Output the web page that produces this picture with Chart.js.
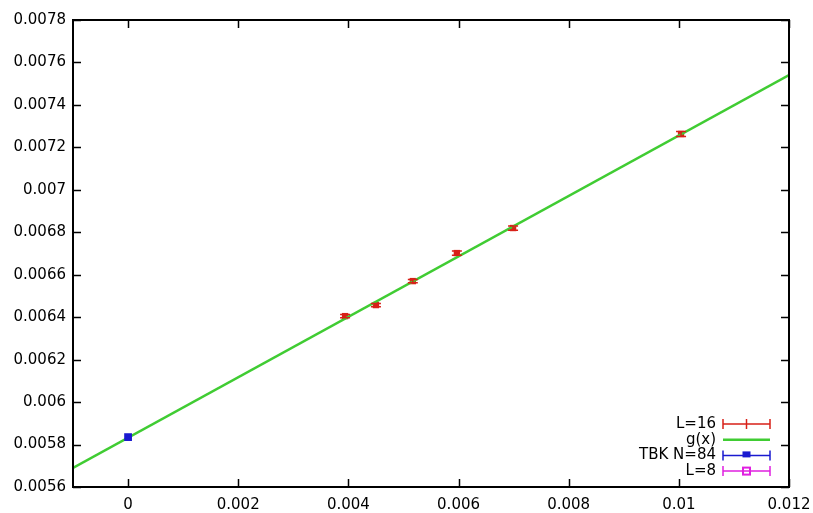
<!DOCTYPE html>
<html>
<head>
<meta charset="utf-8">
<script src="https://cdn.jsdelivr.net/npm/chart.js@4"></script>
<style>
  html, body { margin: 0; padding: 0; background: #fff; }
  #wrap { width: 813px; height: 513px; }
</style>
</head>
<body>
<div id="wrap"><canvas id="fitChart" width="813" height="513"></canvas></div>
<script>
// Tick values for both axes
const xTicks = [0, 0.002, 0.004, 0.006, 0.008, 0.01, 0.012];
const yTicks = [0.0056, 0.0058, 0.006, 0.0062, 0.0064, 0.0066, 0.0068, 0.007, 0.0072, 0.0074, 0.0076, 0.0078];

// L=16 points with error bars
const l16X = [0.00394, 0.0045, 0.00517, 0.00597, 0.00699, 0.01004];
const l16Y = [0.006405, 0.006457, 0.00657, 0.006702, 0.00682, 0.007263];
const l16Err = [0.000008, 0.000008, 0.000008, 0.00001, 0.00001, 0.000012];

// TBK N=84 extrapolated point
const tbkX = [0];
const tbkY = [0.005835];

// L=8 (listed in key, no visible points)
const l8X = [];
const l8Y = [];

// fitted line g(x), read at both ends of the x range
const gX = [-0.001, 0.012];
const gY = [0.00569, 0.00754];

const legendLabels = ["L=16", "g(x)", "TBK N=84", "L=8"];

const FONT = "15px 'DejaVu Sans'";

function toPoints(xs, ys) {
  return xs.map((x, i) => ({ x: x, y: ys[i] }));
}

function fmt(v) {
  return String(Number(v.toFixed(6)));
}

// frame with inward ticks, error bars and gnuplot style key
const gnuFrame = {
  id: "gnuFrame",
  afterDatasetsDraw(chart) {
    const ctx = chart.ctx;
    const xs = chart.scales.x;
    const ys = chart.scales.y;
    // error bars for L=16
    ctx.save();
    ctx.strokeStyle = "#d82018";
    ctx.lineWidth = 1.5;
    l16X.forEach((x, i) => {
      const px = xs.getPixelForValue(x);
      const top = ys.getPixelForValue(l16Y[i] + l16Err[i]);
      const bot = ys.getPixelForValue(l16Y[i] - l16Err[i]);
      ctx.beginPath();
      ctx.moveTo(px, top);
      ctx.lineTo(px, bot);
      ctx.moveTo(px - 5, top);
      ctx.lineTo(px + 5, top);
      ctx.moveTo(px - 5, bot);
      ctx.lineTo(px + 5, bot);
      ctx.stroke();
    });
    ctx.restore();
  },
  afterDraw(chart) {
    const ctx = chart.ctx;
    const a = chart.chartArea;
    const xs = chart.scales.x;
    const ys = chart.scales.y;
    ctx.save();
    ctx.strokeStyle = "#000";
    ctx.lineWidth = 2;
    ctx.strokeRect(a.left, a.top, a.right - a.left, a.bottom - a.top);
    ctx.lineWidth = 1.5;
    ctx.beginPath();
    xTicks.forEach((v) => {
      const px = Math.round(xs.getPixelForValue(v)) + 0.5;
      ctx.moveTo(px, a.bottom);
      ctx.lineTo(px, a.bottom - 8);
      ctx.moveTo(px, a.top);
      ctx.lineTo(px, a.top + 8);
    });
    yTicks.forEach((v) => {
      const py = Math.round(ys.getPixelForValue(v)) + 0.5;
      ctx.moveTo(a.left, py);
      ctx.lineTo(a.left + 8, py);
      ctx.moveTo(a.right, py);
      ctx.lineTo(a.right - 8, py);
    });
    ctx.stroke();

    // key
    const textRight = 716;
    const x0 = 723;
    const x1 = 770;
    const xm = (x0 + x1) / 2;
    const colors = ["#d82018", "#40cc33", "#1a1ad0", "#e020e0"];
    ctx.font = FONT;
    ctx.textAlign = "right";
    ctx.textBaseline = "middle";
    legendLabels.forEach((label, i) => {
      const y = 424 + i * 15.7;
      ctx.fillStyle = "#000";
      ctx.fillText(label, textRight, y);
      ctx.strokeStyle = colors[i];
      ctx.lineWidth = i === 1 ? 2.5 : 1.5;
      ctx.beginPath();
      ctx.moveTo(x0, y);
      ctx.lineTo(x1, y);
      if (i !== 1) {
        ctx.moveTo(x0, y - 5);
        ctx.lineTo(x0, y + 5);
        ctx.moveTo(x1, y - 5);
        ctx.lineTo(x1, y + 5);
      }
      ctx.stroke();
      if (i === 0) {
        ctx.beginPath();
        ctx.moveTo(xm, y - 5);
        ctx.lineTo(xm, y + 5);
        ctx.stroke();
      } else if (i === 2) {
        ctx.fillStyle = colors[i];
        ctx.fillRect(xm - 4, y - 4, 8, 6);
      } else if (i === 3) {
        ctx.lineWidth = 2;
        ctx.strokeRect(xm - 3.5, y - 3.5, 7, 7);
      }
    });
    ctx.restore();
  },
};

new Chart(document.getElementById("fitChart"), {
  type: "scatter",
  data: {
    datasets: [
      {
        label: "L=16",
        data: toPoints(l16X, l16Y),
        pointStyle: "rect",
        pointRadius: 4.5,
        backgroundColor: "#d82018",
        borderColor: "#d82018",
        borderWidth: 0,
        order: 2,
      },
      {
        label: "g(x)",
        data: toPoints(gX, gY),
        showLine: true,
        borderColor: "#40cc33",
        borderWidth: 2.5,
        pointRadius: 0,
        fill: false,
        order: 1,
      },
      {
        label: "TBK N=84",
        data: toPoints(tbkX, tbkY),
        pointStyle: "rect",
        pointRadius: 5.5,
        backgroundColor: "#1a1ad0",
        borderColor: "#1a1ad0",
        borderWidth: 0,
        order: 0,
      },
      {
        label: "L=8",
        data: toPoints(l8X, l8Y),
        pointStyle: "rect",
        pointRadius: 4,
        backgroundColor: "#e020e0",
        order: 0,
      },
    ],
  },
  options: {
    responsive: false,
    devicePixelRatio: 1,
    animation: false,
    layout: { padding: { top: 20, right: 24, left: 0, bottom: 0 } },
    plugins: {
      legend: { display: false },
      tooltip: { enabled: false },
      title: { display: false },
    },
    scales: {
      x: {
        type: "linear",
        min: -0.001,
        max: 0.012,
        afterBuildTicks: (scale) => {
          scale.ticks = xTicks.map((v) => ({ value: v }));
        },
        afterFit: (scale) => {
          scale.height = 26;
          scale.paddingLeft = 0;
          scale.paddingRight = 0;
        },
        grid: { display: false, drawTicks: false },
        border: { display: false },
        ticks: {
          color: "#000",
          font: { family: "DejaVu Sans", size: 15 },
          padding: 9,
          maxRotation: 0,
          autoSkip: false,
          callback: (v) => fmt(v),
        },
      },
      y: {
        type: "linear",
        min: 0.0056,
        max: 0.0078,
        afterBuildTicks: (scale) => {
          scale.ticks = yTicks.map((v) => ({ value: v }));
        },
        afterFit: (scale) => {
          scale.width = 73;
          scale.paddingTop = 0;
          scale.paddingBottom = 0;
        },
        grid: { display: false, drawTicks: false },
        border: { display: false },
        ticks: {
          color: "#000",
          font: { family: "DejaVu Sans", size: 15 },
          padding: 7,
          autoSkip: false,
          callback: (v) => fmt(v),
        },
      },
    },
  },
  plugins: [gnuFrame],
});
</script>
</body>
</html>
